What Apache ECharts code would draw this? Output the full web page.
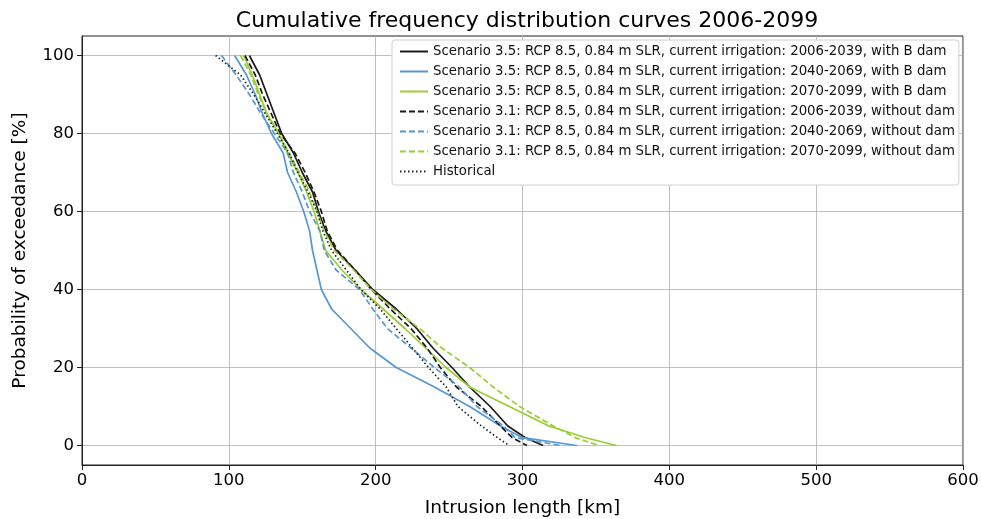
<!DOCTYPE html>
<html>
<head>
<meta charset="utf-8">
<script src="https://cdn.jsdelivr.net/npm/echarts@6/dist/echarts.min.js"></script>
<style>html,body{margin:0;padding:0;background:#fff;}#c{width:982px;height:519px;}</style>
</head>
<body>
<div id="c"></div>
<script>
// Probability of exceedance levels [%]
const prob = [100, 95, 90, 85, 80, 75, 70, 65, 60, 55, 50, 45, 40, 35, 30, 25, 20, 15, 10, 5, 2, 0];
// Intrusion length [km] at each probability level
const s35_2006 = [114, 121, 126, 131, 136, 144, 150, 157, 161, 166, 173, 186, 198, 214, 228, 239, 252, 264, 278, 290, 302, 314];
const s35_2040 = [104, 112, 118, 123, 129, 137, 140, 146, 151, 155, 157, 160, 163, 170, 183, 196, 214, 240, 264, 285, 300, 337];
const s35_2070 = [110, 116, 121, 126, 134, 140, 147, 153, 158, 162, 166, 177, 190, 205, 220, 234, 248, 264, 291, 318, 343, 364];
const s31_2006 = [111, 118, 123, 129, 135, 145, 152, 158, 163, 167, 174, 186, 197, 210, 224, 235, 244, 255, 272, 285, 293, 303];
const s31_2040 = [95, 105, 114, 122, 131, 140, 144, 150, 155, 162, 165, 173, 189, 198, 208, 224, 240, 257, 269, 287, 295, 326];
const s31_2070 = [108, 115, 120, 126, 134, 141, 148, 155, 160, 165, 172, 185, 197, 212, 230, 245, 264, 280, 298, 321, 336, 352];
const historical = [91, 108, 117, 125, 133, 141, 147, 154, 160, 164, 170, 180, 190, 203, 214, 225, 236, 248, 256, 272, 283, 291];

const names = [
  'Scenario 3.5: RCP 8.5, 0.84 m SLR, current irrigation: 2006-2039, with B dam',
  'Scenario 3.5: RCP 8.5, 0.84 m SLR, current irrigation: 2040-2069, with B dam',
  'Scenario 3.5: RCP 8.5, 0.84 m SLR, current irrigation: 2070-2099, with B dam',
  'Scenario 3.1: RCP 8.5, 0.84 m SLR, current irrigation: 2006-2039, without dam',
  'Scenario 3.1: RCP 8.5, 0.84 m SLR, current irrigation: 2040-2069, without dam',
  'Scenario 3.1: RCP 8.5, 0.84 m SLR, current irrigation: 2070-2099, without dam',
  'Historical'
];
const xTicks = [0, 100, 200, 300, 400, 500, 600];
const yTicks = [0, 20, 40, 60, 80, 100];

const BLACK = '#1b1b1b', BLUE = '#5797d2', GREEN = '#9acd32';
const seriesDefs = [
  [s35_2006, BLACK, 'solid'],
  [s35_2040, BLUE, 'solid'],
  [s35_2070, GREEN, 'solid'],
  [s31_2006, BLACK, [6, 3]],
  [s31_2040, BLUE, [6, 3]],
  [s31_2070, GREEN, [6, 3]],
  [historical, '#222', [1.5, 2.5]]
];

const FONT = 'DejaVu Sans';
const chart = echarts.init(document.getElementById('c'), null, {renderer: 'canvas'});
chart.setOption({
  animation: false,
  backgroundColor: '#fff',
  textStyle: {fontFamily: FONT},
  title: {
    text: 'Cumulative frequency distribution curves 2006-2099',
    left: 522, top: 5, textAlign: 'center',
    textStyle: {fontFamily: FONT, fontSize: 22, fontWeight: 'normal', color: '#000'}
  },
  grid: {left: 82, right: 19, top: 36, bottom: 54, show: true, borderColor: '#222', borderWidth: 1,
         containLabel: false, outerBoundsMode: 'none'},
  legend: {
    orient: 'vertical', left: 392, top: 40,
    padding: [5, 4, 7, 7], itemGap: 7, itemWidth: 28, itemHeight: 14,
    backgroundColor: '#fff', borderColor: '#d0d0d0', borderWidth: 1, borderRadius: 3,
    itemStyle: {opacity: 0},
    textStyle: {fontFamily: FONT, fontSize: 13.3, color: '#111'},
    data: names
  },
  xAxis: {
    type: 'value', min: 0, max: 600, interval: 100,
    name: 'Intrusion length [km]', nameLocation: 'middle', nameGap: 34,
    nameTextStyle: {fontFamily: FONT, fontSize: 18.5, color: '#000'},
    axisLine: {show: true, onZero: false, lineStyle: {color: '#222', width: 1}},
    axisTick: {show: true, length: 5, lineStyle: {color: '#222'}},
    axisLabel: {fontFamily: FONT, fontSize: 16.5, color: '#000', margin: 7, customValues: xTicks},
    splitLine: {show: true, lineStyle: {color: '#b0b0b0', width: 0.8}}
  },
  yAxis: {
    type: 'value', min: -5, max: 105,
    name: 'Probability of exceedance [%]', nameLocation: 'middle', nameGap: 52,
    nameTextStyle: {fontFamily: FONT, fontSize: 18.5, color: '#000'},
    axisLine: {show: true, onZero: false, lineStyle: {color: '#222', width: 1}},
    axisTick: {show: true, length: 5, lineStyle: {color: '#222'}, customValues: yTicks},
    axisLabel: {fontFamily: FONT, fontSize: 16.5, color: '#000', margin: 8, customValues: yTicks},
    splitLine: {show: true, lineStyle: {color: '#b0b0b0', width: 0.8}}
  },
  series: seriesDefs.map((d, i) => ({
    name: names[i],
    type: 'line',
    data: d[0].map((v, j) => [v, prob[j]]),
    showSymbol: false, symbol: 'none',
    lineStyle: {color: d[1], width: 1.7, type: d[2]},
    itemStyle: {color: d[1]},
    z: 2 + i
  }))
});
</script>
</body>
</html>
